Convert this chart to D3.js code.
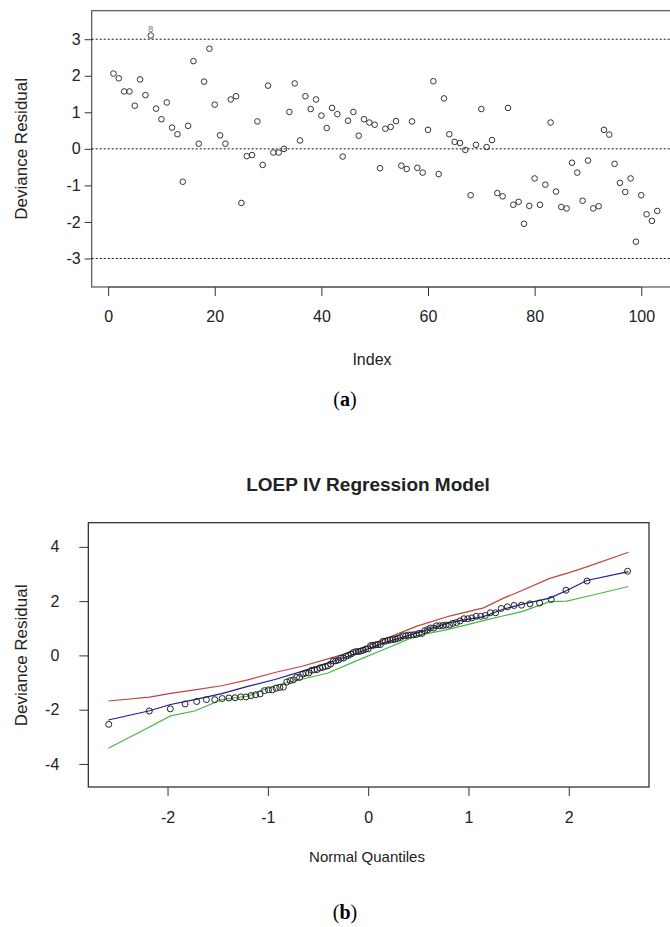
<!DOCTYPE html>
<html>
<head>
<meta charset="utf-8">
<script src="https://cdn.jsdelivr.net/npm/d3@7"></script>
<style>
    body { margin: 0; background: #fff; }
    svg { display: block; }
    text { font-family: 'Liberation Sans', Arial, sans-serif; fill: #222; }
</style>
</head>
<body>
<div id="graph"></div>
<script>
const width = 670;
const height = 927;

// deviance residuals by observation index (panel a)
const residuals = [
    2.06, 1.93, 1.57, 1.57, 1.18, 1.90, 1.47, 3.10, 1.10, 0.81,
    1.27, 0.58, 0.40, -0.90, 0.63, 2.40, 0.14, 1.84, 2.74, 1.21,
    0.37, 0.14, 1.35, 1.44, -1.48, -0.20, -0.17, 0.75, -0.44, 1.73,
    -0.10, -0.10, 0.00, 1.01, 1.79, 0.23, 1.44, 1.09, 1.35, 0.91,
    0.57, 1.12, 0.95, -0.21, 0.77, 1.01, 0.36, 0.81, 0.72, 0.66,
    -0.53, 0.55, 0.60, 0.76, -0.46, -0.55, 0.75, -0.52, -0.65, 0.52,
    1.85, -0.69, 1.38, 0.40, 0.19, 0.16, -0.03, -1.27, 0.11, 1.09,
    0.05, 0.24, -1.21, -1.30, 1.12, -1.53, -1.45, -2.05, -1.56, -0.81,
    -1.53, -0.98, 0.72, -1.17, -1.59, -1.63, -0.38, -0.65, -1.42, -0.32,
    -1.63, -1.57, 0.52, 0.39, -0.41, -0.93, -1.18, -0.81, -2.54, -1.27,
    -1.79, -1.97, -1.70
];
const labelledIndex = [8];
const refLines = [-3, 0, 3];
const xTicksA = [0, 20, 40, 60, 80, 100];
const yTicksA = [-3, -2, -1, 0, 1, 2, 3];

// simulated envelope (panel b), read at these normal quantiles
const envQuantile = [-2.59, -2.18, -1.97, -1.73, -1.46, -1.2, -0.93, -0.66, -0.4, -0.13,
    0.15, 0.48, 0.81, 1.15, 1.35, 1.54, 1.81, 1.98, 2.18, 2.595];
const envUpper = [-1.68, -1.54, -1.40, -1.27, -1.12, -0.90, -0.63, -0.40, -0.13, 0.17,
    0.58, 1.07, 1.45, 1.75, 2.11, 2.40, 2.84, 3.02, 3.26, 3.80];
const envMedian = [-2.38, -2.04, -1.81, -1.63, -1.41, -1.14, -0.89, -0.59, -0.28, 0.06,
    0.45, 0.82, 1.21, 1.43, 1.71, 1.89, 2.11, 2.39, 2.76, 3.09];
const envLower = [-3.42, -2.64, -2.23, -2.05, -1.63, -1.50, -1.11, -0.88, -0.65, -0.22,
    0.21, 0.72, 0.97, 1.28, 1.46, 1.62, 1.98, 2.00, 2.17, 2.54];
const xTicksB = [-2, -1, 0, 1, 2];
const yTicksB = [-4, -2, 0, 2, 4];

const svg = d3.select('#graph').append('svg')
    .attr('width', width)
    .attr('height', height)
    .attr('viewBox', [0, 0, width, height]);

// R prints plain integers with an ascii hyphen for minus
const rFormat = d => String(d);

// ---------- panel (a): index plot ----------
const xA = d3.scaleLinear().domain([-3.08, 107.08]).range([91.7, 679]);
const yA = d3.scaleLinear().domain([-3.78, 3.78]).range([287, 10.7]);

svg.append('rect')
    .attr('x', xA.range()[0])
    .attr('y', yA.range()[1])
    .attr('width', xA.range()[1] - xA.range()[0])
    .attr('height', yA.range()[0] - yA.range()[1])
    .attr('fill', 'none')
    .attr('stroke', '#555')
    .attr('stroke-width', 1.2);

svg.append('g').selectAll('line')
    .data(refLines)
    .join('line')
    .attr('x1', xA.range()[0])
    .attr('x2', xA.range()[1])
    .attr('y1', d => yA(d))
    .attr('y2', d => yA(d))
    .attr('stroke', '#111')
    .attr('stroke-width', 1)
    .attr('stroke-dasharray', '2,2');

svg.append('g')
    .attr('transform', `translate(0,${yA.range()[0]})`)
    .call(d3.axisBottom(xA).tickValues(xTicksA).tickFormat(rFormat).tickSize(9).tickPadding(15));
svg.append('g')
    .attr('transform', `translate(${xA.range()[0]},0)`)
    .call(d3.axisLeft(yA).tickValues(yTicksA).tickFormat(rFormat).tickSize(7).tickPadding(4));

svg.append('g').selectAll('circle')
    .data(residuals)
    .join('circle')
    .attr('cx', (d, i) => xA(i + 1))
    .attr('cy', d => yA(d))
    .attr('r', 2.8)
    .attr('fill', 'none')
    .attr('stroke', '#333')
    .attr('stroke-width', 1);

svg.append('g').selectAll('text')
    .data(labelledIndex)
    .join('text')
    .attr('x', d => xA(d))
    .attr('y', d => yA(residuals[d - 1]) - 3.5)
    .attr('text-anchor', 'middle')
    .attr('font-size', 9)
    .style('fill', '#777')
    .text(d => d);

svg.append('text')
    .attr('x', 372)
    .attr('y', 365)
    .attr('text-anchor', 'middle')
    .attr('font-size', 16)
    .text('Index');

svg.append('text')
    .attr('transform', `translate(27,${yA(0)}) rotate(-90)`)
    .attr('text-anchor', 'middle')
    .attr('font-size', 17)
    .text('Deviance Residual');

// ---------- panel (b): normal Q-Q plot with envelope ----------
const xB = d3.scaleLinear().domain([-2.79, 2.80]).range([88.3, 649]);
const yB = d3.scaleLinear().domain([-4.85, 4.89]).range([787, 522.7]);

// Acklam's rational approximation of the normal quantile function
function qnorm(p) {
    const a = [-39.69683028665376, 220.9460984245205, -275.9285104469687, 138.3577518672690, -30.66479806614716, 2.506628277459239];
    const b = [-54.47609879822406, 161.5858368580409, -155.6989798598866, 66.80131188771972, -13.28068155288572];
    const c = [-0.007784894002430293, -0.3223964580411365, -2.400758277161838, -2.549732539343734, 4.374664141464968, 2.938163982698783];
    const e = [0.007784695709041462, 0.3224671290700398, 2.445134137142996, 3.754408661907416];
    const pl = 0.02425;
    if (p < pl) {
        const q = Math.sqrt(-2 * Math.log(p));
        return (((((c[0] * q + c[1]) * q + c[2]) * q + c[3]) * q + c[4]) * q + c[5]) /
            ((((e[0] * q + e[1]) * q + e[2]) * q + e[3]) * q + 1);
    }
    if (p > 1 - pl) return -qnorm(1 - p);
    const q = p - 0.5;
    const r = q * q;
    return (((((a[0] * r + a[1]) * r + a[2]) * r + a[3]) * r + a[4]) * r + a[5]) * q /
        (((((b[0] * r + b[1]) * r + b[2]) * r + b[3]) * r + b[4]) * r + 1);
}

// sorted residuals against normal scores
const sorted = residuals.slice().sort(d3.ascending);
const n = sorted.length;
const qqPoints = sorted.map((v, i) => ({x: qnorm((i + 0.5) / n), y: v}));

svg.append('rect')
    .attr('x', xB.range()[0])
    .attr('y', yB.range()[1])
    .attr('width', xB.range()[1] - xB.range()[0])
    .attr('height', yB.range()[0] - yB.range()[1])
    .attr('fill', 'none')
    .attr('stroke', '#222')
    .attr('stroke-width', 1.2);

svg.append('g')
    .attr('transform', `translate(0,${yB.range()[0]})`)
    .call(d3.axisBottom(xB).tickValues(xTicksB).tickFormat(rFormat).tickSize(9).tickPadding(16));
svg.append('g')
    .attr('transform', `translate(${xB.range()[0]},0)`)
    .call(d3.axisLeft(yB).tickValues(yTicksB).tickFormat(rFormat).tickSize(9).tickPadding(20));

const line = d3.line()
    .x(d => xB(d[0]))
    .y(d => yB(d[1]));

const envelopes = [
    {values: envUpper, color: '#c0443f'},
    {values: envLower, color: '#45b845'},
    {values: envMedian, color: '#1c1c96'}
];

svg.append('g').selectAll('path')
    .data(envelopes)
    .join('path')
    .attr('d', d => line(envQuantile.map((q, i) => [q, d.values[i]])))
    .attr('fill', 'none')
    .attr('stroke', d => d.color)
    .attr('stroke-width', 1.2);

svg.append('g').selectAll('circle')
    .data(qqPoints)
    .join('circle')
    .attr('cx', d => xB(d.x))
    .attr('cy', d => yB(d.y))
    .attr('r', 3)
    .attr('fill', 'none')
    .attr('stroke', '#222')
    .attr('stroke-width', 1);

svg.append('text')
    .attr('x', 368)
    .attr('y', 491)
    .attr('text-anchor', 'middle')
    .attr('font-size', 19)
    .attr('font-weight', 'bold')
    .text('LOEP IV Regression Model');

svg.append('text')
    .attr('x', 367)
    .attr('y', 862)
    .attr('text-anchor', 'middle')
    .attr('font-size', 15)
    .text('Normal Quantiles');

svg.append('text')
    .attr('transform', `translate(27,${yB(0)}) rotate(-90)`)
    .attr('text-anchor', 'middle')
    .attr('font-size', 17)
    .text('Deviance Residual');

// shared axis styling (R-like)
svg.selectAll('.domain').remove();
svg.selectAll('.tick line').attr('stroke', '#333');
svg.selectAll('.tick text')
    .attr('font-size', 16)
    .attr('font-family', "'Liberation Sans', Arial, sans-serif")
    .style('fill', '#222');

// R draws the x axis line only between the outer ticks
svg.append('line')
    .attr('x1', xA(xTicksA[0]))
    .attr('x2', xA(xTicksA[xTicksA.length - 1]))
    .attr('y1', yA.range()[0])
    .attr('y2', yA.range()[0])
    .attr('stroke', '#555');

// captions
const captions = [{label: 'a', y: 406}, {label: 'b', y: 919}];
captions.forEach(c => {
    const t = svg.append('text')
        .attr('x', 345)
        .attr('y', c.y)
        .attr('text-anchor', 'middle')
        .attr('font-size', 20)
        .style('font-family', "'Liberation Serif', 'DejaVu Serif', serif")
        .style('fill', '#000');
    t.append('tspan').text('(');
    t.append('tspan').attr('font-weight', 'bold').text(c.label);
    t.append('tspan').text(')');
});
</script>
</body>
</html>
